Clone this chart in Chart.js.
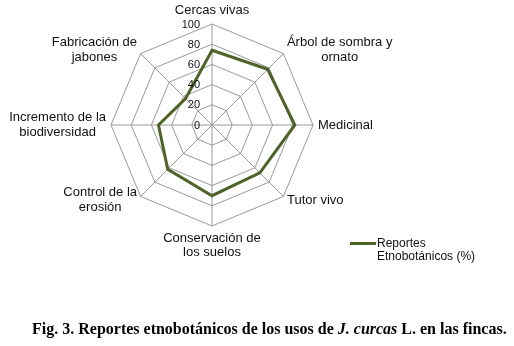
<!DOCTYPE html>
<html>
<head>
<meta charset="utf-8">
<script src="https://cdn.jsdelivr.net/npm/chart.js@4/dist/chart.umd.min.js"></script>
<style>
  body { margin: 0; background: #fff; }
  #wrap { position: relative; width: 514px; height: 346px; }
  #grafico { position: absolute; left: 0; top: 0; }
  #pie {
    position: absolute; left: 32px; top: 320px; white-space: nowrap;
    font-family: "Liberation Serif", "Times New Roman", serif;
    font-weight: bold; font-size: 16px; line-height: 18px; color: #000;
  }
</style>
</head>
<body>
<div id="wrap">
  <canvas id="grafico" width="514" height="346"></canvas>
  <div id="pie">Fig. 3. Reportes etnobotánicos de los usos de <i>J. curcas</i> L. en las fincas.</div>
</div>
<script>
// Datos
const categorias = [
  ['Cercas vivas'],
  ['Árbol de sombra y', 'ornato'],
  ['Medicinal'],
  ['Tutor vivo'],
  ['Conservación de', 'los suelos'],
  ['Control de la', 'erosión'],
  ['Incremento de la', 'biodiversidad'],
  ['Fabricación de', 'jabones']
];
const reportes = [74, 78, 82, 67, 70, 62, 53, 37];
const nombreSerie = ['Reportes', 'Etnobotánicos (%)'];
const valoresEje = [0, 20, 40, 60, 80, 100];

const colorSerie = '#4f6228';
const fuente = '"Liberation Sans", Arial, sans-serif';

// Etiquetas, marcas y leyenda dibujadas a mano (como en Excel)
const textosRadar = {
  id: 'textosRadar',
  afterDraw(chart) {
    const ctx = chart.ctx;
    const r = chart.scales.r;
    ctx.save();
    ctx.fillStyle = '#111';

    // marcas del eje (a la izquierda del eje vertical)
    ctx.font = '11px ' + fuente;
    ctx.textAlign = 'right';
    ctx.textBaseline = 'middle';
    valoresEje.forEach(v => {
      const p = r.getPointPositionForValue(0, v);
      ctx.fillText(String(v), p.x - 12, p.y + 0.5);
    });

    // etiquetas de categorías
    ctx.font = '13px ' + fuente;
    const altoLinea = 14.5;
    const n = categorias.length;
    categorias.forEach((lineas, i) => {
      const ang = i * 360 / n;
      const p = r.getPointPosition(i, r.drawingArea + (ang === 0 ? 6 : 5));
      const anchoMax = Math.max(...lineas.map(t => ctx.measureText(t).width));
      const alto = lineas.length * altoLinea;
      let cx, top;
      if (ang === 0) { cx = p.x; top = p.y - alto; }
      else if (ang === 180) { cx = p.x; top = p.y; }
      else if (ang < 180) { cx = p.x + anchoMax / 2; top = p.y - alto / 2; }
      else { cx = p.x - anchoMax / 2; top = p.y - alto / 2; }
      ctx.textAlign = 'center';
      lineas.forEach((t, k) => ctx.fillText(t, cx, top + altoLinea * (k + 0.5)));
    });

    // leyenda
    ctx.strokeStyle = colorSerie;
    ctx.lineWidth = 3;
    ctx.beginPath();
    ctx.moveTo(350, 243.5);
    ctx.lineTo(376, 243.5);
    ctx.stroke();
    ctx.font = '12px ' + fuente;
    ctx.textAlign = 'left';
    nombreSerie.forEach((t, k) => ctx.fillText(t, 377, 244 + k * 12.7));
    ctx.restore();
  }
};

new Chart(document.getElementById('grafico'), {
  type: 'radar',
  data: {
    labels: categorias,
    datasets: [{
      label: nombreSerie.join(' '),
      data: reportes,
      borderColor: colorSerie,
      borderWidth: 3,
      fill: false,
      pointRadius: 0,
      pointHoverRadius: 0
    }]
  },
  options: {
    responsive: false,
    animation: false,
    plugins: { legend: { display: false }, tooltip: { enabled: false } },
    scales: {
      r: {
        min: 0,
        max: 100,
        ticks: { stepSize: 20, display: false },
        grid: { color: '#9a9a9a', lineWidth: 1 },
        angleLines: { color: '#9a9a9a', lineWidth: 1 },
        pointLabels: { display: false },
        afterFit: s => { s.xCenter = 212; s.yCenter = 125; s.drawingArea = 101; }
      }
    }
  },
  plugins: [textosRadar]
});
</script>
</body>
</html>
